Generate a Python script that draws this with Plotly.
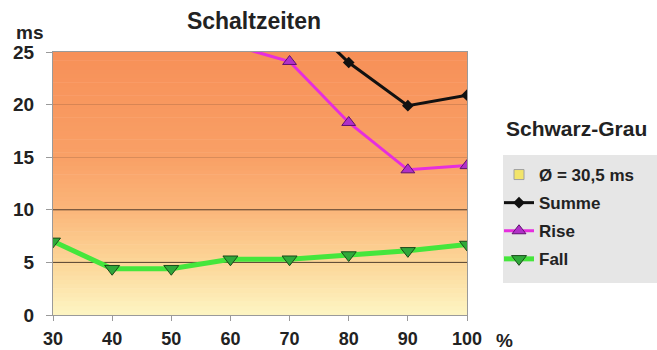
import plotly.graph_objects as go

x_pct = [30, 40, 50, 60, 70, 80, 90, 100]
summe = [None, None, None, 31.0, 29.4, 24.0, 19.9, 20.9]
rise = [None, None, None, 25.7, 24.1, 18.3, 13.8, 14.2]
fall = [7.0, 4.4, 4.4, 5.3, 5.3, 5.7, 6.1, 6.7]
avg_label = "Ø = 30,5 ms"
y_ticks = [0, 5, 10, 15, 20, 25]
strong_grid = [5, 10]

FONT = "Liberation Sans, Arial, sans-serif"
TXT = "#222222"
PL, PR, PT, PB = 53, 467, 52, 315
PW, PH = PR - PL, PB - PT

def px(x):
    return (x - PL) / PW

def py(y):
    return (PB - y) / PH

fig = go.Figure()

fig.add_trace(go.Scatter(
    x=[None], y=[None], mode="markers", name="<b>%s</b>" % avg_label,
    marker=dict(symbol="square", size=10, color="#f2e46a",
                line=dict(color="#a0a0a0", width=1)),
    legendgroup="a"))
fig.add_trace(go.Scatter(
    x=x_pct, y=summe, mode="lines+markers", name="<b>Summe</b>",
    line=dict(color="#111111", width=3),
    marker=dict(symbol="diamond", size=9, color="#111111"),
    legendgroup="b"))
fig.add_trace(go.Scatter(
    x=x_pct, y=rise, mode="lines+markers", name="<b>Rise</b>",
    line=dict(color="#e62ede", width=3),
    marker=dict(symbol="triangle-up", size=12, color="#b030c8",
                line=dict(color="#601070", width=1)),
    legendgroup="c"))
fig.add_trace(go.Scatter(
    x=x_pct, y=fall, mode="lines+markers", name="<b>Fall</b>",
    line=dict(color="#45e63c", width=5),
    marker=dict(symbol="triangle-down", size=13, color="#2fa83a",
                line=dict(color="#1a4a1a", width=1)),
    legendgroup="d"))

# vertical background gradient (orange top -> pale yellow bottom)
stops = [(0.0, (253, 245, 195)), (0.2, (252, 214, 152)), (0.4, (251, 182, 122)),
         (0.6, (249, 160, 102)), (1.0, (247, 144, 88))]

def col(t):
    for i in range(len(stops) - 1):
        t0, c0 = stops[i]
        t1, c1 = stops[i + 1]
        if t0 <= t <= t1:
            f = (t - t0) / (t1 - t0)
            return "rgb(%d,%d,%d)" % tuple(round(c0[k] + (c1[k] - c0[k]) * f) for k in range(3))
    return "rgb(%d,%d,%d)" % stops[-1][1]

n = 60
shapes = []
for i in range(n):
    shapes.append(dict(type="rect", xref="x domain", yref="y domain",
                       x0=0, x1=1, y0=i / n, y1=(i + 1) / n + 0.002,
                       fillcolor=col((i + 0.5) / n), line=dict(width=0),
                       layer="below"))
for g in strong_grid:
    shapes.append(dict(type="line", xref="x domain", yref="y", x0=0, x1=1,
                       y0=g, y1=g, line=dict(color="rgba(50,35,25,0.8)", width=1),
                       layer="below"))
# legend panel background
shapes.append(dict(type="rect", xref="paper", yref="paper",
                   x0=px(503), x1=px(657), y0=py(283), y1=py(155),
                   fillcolor="#e6e6e6", line=dict(width=0), layer="below"))

fig.update_layout(
    width=657, height=350,
    margin=dict(l=PL, r=657 - PR, t=PT, b=350 - PB, autoexpand=False),
    paper_bgcolor="white", plot_bgcolor="white",
    shapes=shapes,
    font=dict(family=FONT, size=13, color=TXT),
    title=dict(text="<b>Schaltzeiten</b>", x=254 / 657, xanchor="center",
               y=1 - 21 / 350, yanchor="middle",
               font=dict(size=23, color=TXT, family=FONT)),
    showlegend=True,
    legend=dict(x=px(499), y=py(157),
                xanchor="left", yanchor="top", bgcolor="rgba(0,0,0,0)",
                font=dict(size=17, family=FONT, color=TXT),
                traceorder="grouped", tracegroupgap=3,
                itemwidth=30, borderwidth=0),
    xaxis=dict(range=[30, 100], tickvals=x_pct, ticktext=["<b>%d</b>" % v for v in x_pct],
               showgrid=False, zeroline=False, showline=True, linecolor="#9a9a9a",
               linewidth=1, mirror=True, ticks="outside", ticklen=5, tickcolor="#9a9a9a",
               ticklabelstandoff=2, automargin=False,
               tickfont=dict(size=18, color=TXT)),
    yaxis=dict(range=[0, 25], tickvals=y_ticks, ticktext=["<b>%d</b>" % v for v in y_ticks],
               showgrid=True, gridcolor="rgba(70,50,40,0.18)", gridwidth=1,
               zeroline=False, showline=True, linecolor="#9a9a9a", linewidth=1,
               mirror=True, ticks="outside", ticklen=6, tickcolor="#9a9a9a",
               ticklabelstandoff=8, automargin=False,
               tickfont=dict(size=19, color=TXT)),
    annotations=[
        dict(text="<b>ms</b>", xref="paper", yref="paper", x=px(29), y=py(33),
             xanchor="center", yanchor="middle", showarrow=False,
             font=dict(size=19, family=FONT, color=TXT)),
        dict(text="<b>%</b>", xref="paper", yref="paper", x=px(504), y=py(340),
             xanchor="center", yanchor="middle", showarrow=False,
             font=dict(size=19, family=FONT, color=TXT)),
        dict(text="<b>Schwarz-Grau</b>", xref="paper", yref="paper",
             x=px(576), y=py(128), xanchor="center", yanchor="middle",
             showarrow=False, font=dict(size=21, family=FONT, color=TXT)),
    ],
)

fig.write_html("out.html", post_script="document.body.style.margin='0';",
               config={"displayModeBar": False})
